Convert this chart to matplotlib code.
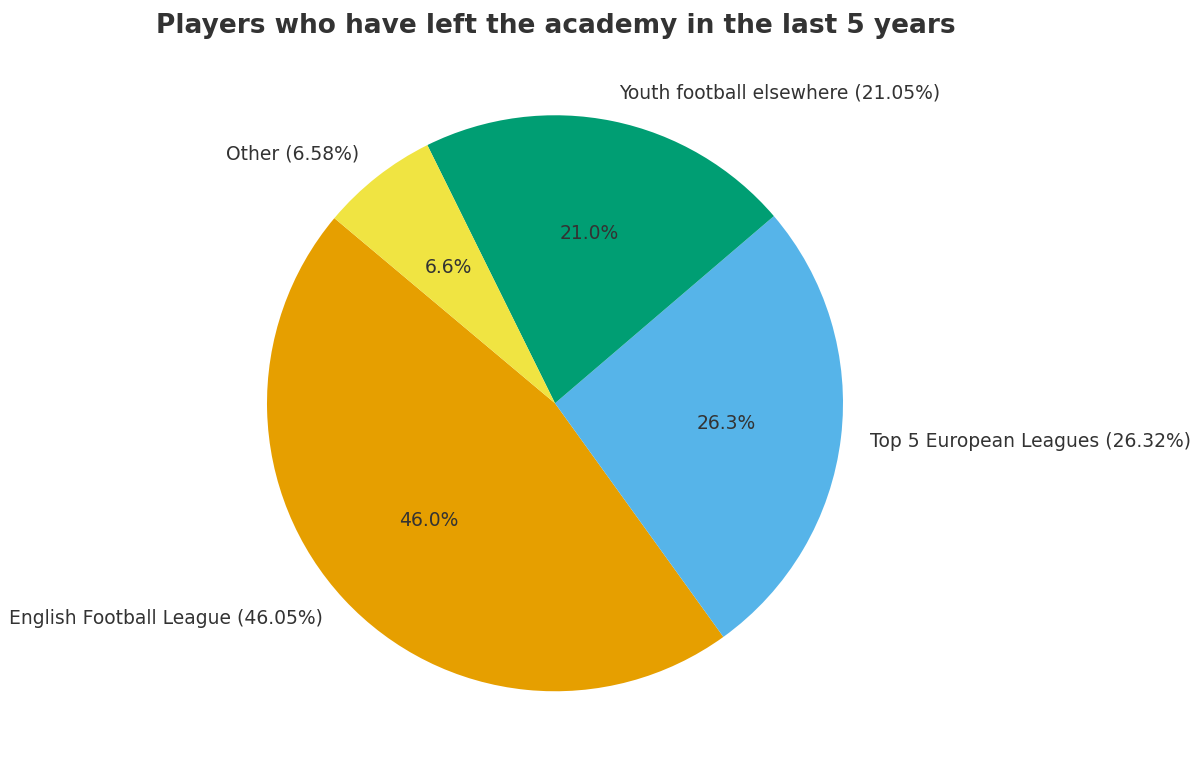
import matplotlib
matplotlib.use("Agg")
import matplotlib.pyplot as plt

categories = ["English Football League", "Top 5 European Leagues", "Youth football elsewhere", "Other"]
values = [46.05, 26.32, 21.05, 6.58]
colors = ["#E69F00", "#56B4E9", "#009E73", "#F0E442"]

fig = plt.figure(figsize=(12, 7.77), dpi=100)
ax = fig.add_axes([0.4625 - 0.24, 0.481 - 0.3707, 0.48, 0.7414])
labels = [f"{c} ({v:.2f}%)" for c, v in zip(categories, values)]
wedges, texts, autotexts = ax.pie(values, labels=labels, colors=colors, startangle=140,
                                  autopct="%1.1f%%", pctdistance=0.6, labeldistance=1.1,
                                  textprops={"fontsize": 13.5, "color": "#333333"})
ax.set_xlim(-1, 1)
ax.set_ylim(-1, 1)
ax.set_aspect("equal")
fig.text(0.463, 0.967, "Players who have left the academy in the last 5 years", ha="center", va="center",
         fontsize=19, fontweight="bold", color="#333333")
fig.savefig("out.png")
